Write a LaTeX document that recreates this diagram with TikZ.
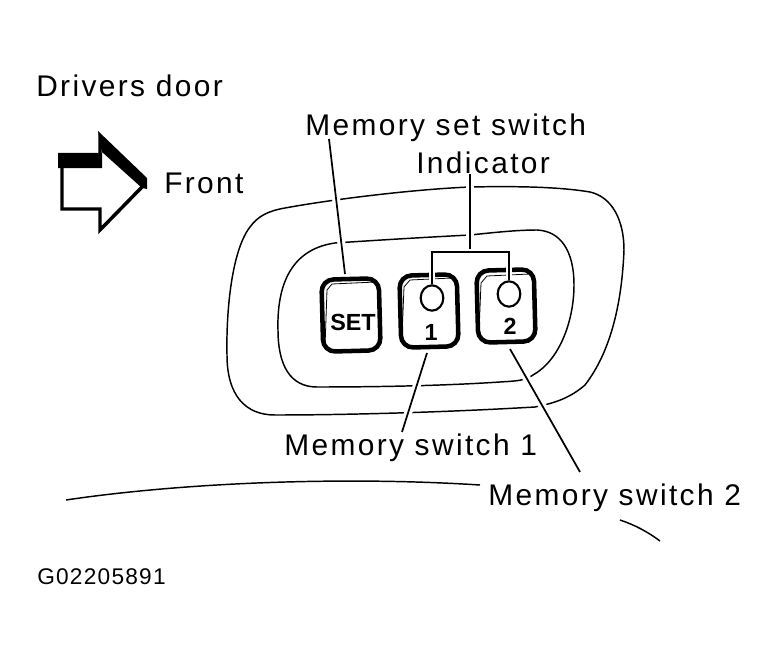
\documentclass[tikz,border=0pt]{standalone}
\usepackage{fontspec}
\setmainfont{Liberation Sans}[LetterSpace=8]
\newfontfamily\keyfont{Liberation Sans}[LetterSpace=0]
\newfontfamily\codefont{Liberation Sans}[LetterSpace=5.5]
\usetikzlibrary{shapes}

\begin{document}
\begin{tikzpicture}[x=0.75pt,y=-0.75pt]
	\tikzstyle{lbl} = [inner sep=0, font=\fontsize{22.4}{24}\selectfont]
	\tikzstyle{key} = [draw, line width=3.4pt, rounded corners=9pt, minimum width=43pt, minimum height=54pt, inner sep=0, rotate=1.5]
	\tikzstyle{keytxt} = [inner sep=0, font=\keyfont\bfseries\fontsize{17.5}{19}\selectfont]
	\tikzstyle{lamp} = [draw, line width=1.6pt, ellipse, minimum width=17pt, minimum height=19pt, inner sep=0]
	\tikzstyle{leader} = [line width=1.3pt, preaction={draw=white, line width=6pt}]
	\tikzstyle{contour} = [line width=1.1pt]

	\useasboundingbox (0,0) rectangle (779,660);

	% labels
	\node[lbl, anchor=west] (door) at (36,86) {Drivers door};
	\node[lbl, anchor=west] (front) at (164,183) {Front};
	\node[lbl, anchor=west] (setsw) at (305,128) {Memory set switch};
	\node[lbl, anchor=west] (indic) at (416,163) {Indicator};
	\node[lbl, anchor=west] (sw1) at (284,448) {Memory switch 1};
	\node[lbl, anchor=west] (sw2) at (488,498) {Memory switch 2};
	\node[inner sep=0, anchor=west, font=\codefont\fontsize{17}{19}\selectfont] (code) at (37,577) {G02205891};

	% arrow
	\draw[line width=2.6pt, line join=miter] (62,166) -- (100,166) -- (100,137) -- (143,186) -- (100,230) -- (100,209) -- (62,209) -- cycle;
	\fill (58,153) -- (102,153) -- (98,131) -- (147,178) -- (147,189) -- (142,188) -- (102,152) -- (102,168) -- (58,168) -- cycle;

	% door panel
	\draw[contour] (470,187) .. controls (520,186) and (560,187) .. (590,192) .. controls (612,197) and (624,220) .. (624,250) .. controls (622,300) and (612,350) .. (585,385) .. controls (570,398) and (555,403) .. (535,407) .. controls (450,412) and (350,415) .. (275,415) .. controls (245,415) and (227,395) .. (227,355) .. controls (226,310) and (232,250) .. (250,227) .. controls (258,216) and (268,211) .. (285,208) .. controls (340,198) and (420,189) .. (470,187) -- cycle;
	\draw[contour] (470,235) .. controls (490,233) and (515,230) .. (537,230) .. controls (560,231) and (574,250) .. (574,285) .. controls (574,320) and (560,360) .. (533,375) .. controls (525,381) and (515,381) .. (500,382) .. controls (440,386) and (370,387) .. (317,387) .. controls (290,387) and (278,365) .. (278,330) .. controls (277,295) and (285,250) .. (335,243) .. controls (380,240) and (430,237) .. (470,235) -- cycle;

	% keys
	\node[key] (kset) at (351,315) {};
	\node[key] (kone) at (429,311) {};
	\node[key] (ktwo) at (506,306) {};
	\draw[line width=0.6pt] (325,347) -- (327,290) -- (332,284) -- (376,282);
	\draw[line width=0.6pt] (402,337) -- (404,287) -- (410,280) -- (452,278);
	\draw[line width=0.6pt] (479,333) -- (481,283) -- (487,276) -- (530,274);
	\node[keytxt] (tset) at (353,322) {SET};
	\node[keytxt] (tone) at (431,332) {1};
	\node[keytxt] (ttwo) at (510,326) {2};
	\node[lamp] (lone) at (432,298) {};
	\node[lamp] (ltwo) at (509,294) {};

	% leaders
	\coordinate (ifork) at (470,252);
	\coordinate (isw1) at (402,432);
	\coordinate (isw2) at (580,472);
	\coordinate (iset) at (329,139);
	\draw[leader] (iset) -- (345,274);
	\draw[leader] (indic.south -| ifork) -- (ifork);
	\draw[line width=1.6pt, preaction={draw=white, line width=5pt}] (lone.north) -- (lone.north |- ifork) -- (ltwo.north |- ifork) -- (ltwo.north);
	\draw[leader] (427,353) -- (isw1);
	\draw[leader] (510,349) -- (isw2);

	% door edge
	\coordinate (ea) at (66,500);
	\coordinate (eb) at (480,485);
	\coordinate (ec) at (620,520);
	\coordinate (ed) at (660,541);
	\draw[contour] (ea) .. controls (180,483) and (340,476) .. (eb);
	\draw[contour] (ec) .. controls (635,525) and (648,532) .. (ed);
\end{tikzpicture}
\end{document}
